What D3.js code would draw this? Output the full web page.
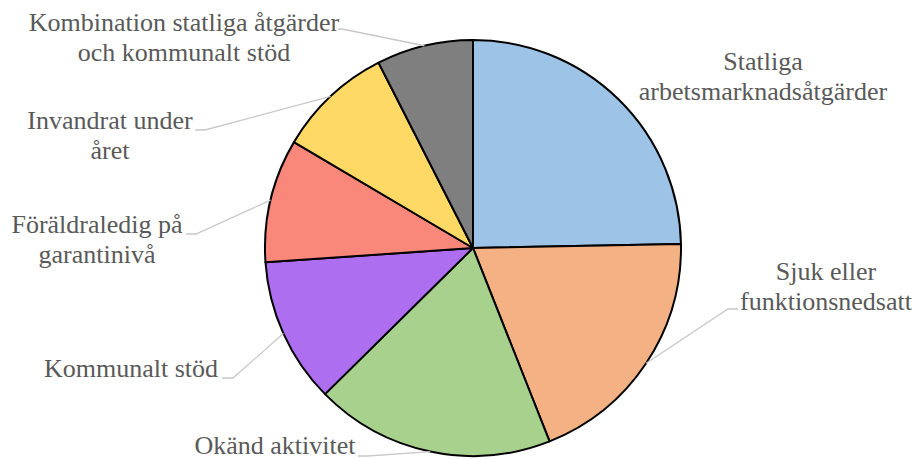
<!DOCTYPE html>
<html><head><meta charset="utf-8">
<script src="https://cdn.jsdelivr.net/npm/d3@7"></script>
<style>body{margin:0;background:#fff;overflow:hidden}</style>
</head><body>
<svg id="c" width="915" height="459"></svg>
<script>
const categories = ["Statliga arbetsmarknadsåtgärder","Sjuk eller funktionsnedsatt","Okänd aktivitet","Kommunalt stöd","Föräldraledig på garantinivå","Invandrat under året","Kombination statliga åtgärder och kommunalt stöd"];
const labelLines = [["Statliga","arbetsmarknadsåtgärder"],["Sjuk eller","funktionsnedsatt"],["Okänd aktivitet"],["Kommunalt stöd"],["Föräldraledig på","garantinivå"],["Invandrat under","året"],["Kombination statliga åtgärder","och kommunalt stöd"]];
const values = [24.7,19.3,18.6,11.3,9.6,9.0,7.5];
const colors = ["#9DC3E6","#F4B183","#A9D18E","#AE6EF0","#F9887B","#FFD966","#7F7F7F"];

const W = 915, H = 459;
const cx = 473, cy = 248, r = 208;
// label layout: centre x, first baseline y, leader start and elbow
const layout = [
  {x:763, y:70, lead:null},
  {x:826, y:280, lead:[[738,309],[728,309]]},
  {x:275, y:454, lead:[[358,456],[368,456]]},
  {x:131, y:377, lead:[[222,378],[233,378]]},
  {x:97,  y:233, lead:[[186,234],[196,234]]},
  {x:110, y:129, lead:[[195,130],[205,130]]},
  {x:184, y:31,  lead:[[338,29],[342,29]]}
];

const svg = d3.select("#c");
svg.append("rect").attr("width",W).attr("height",H).attr("fill","#fff");
const pie = d3.pie().sort(null).value(d=>d)(values);
const arc = d3.arc().innerRadius(0).outerRadius(r);
const g = svg.append("g").attr("transform",`translate(${cx},${cy})`);

pie.forEach((p,i)=>{
  const L = layout[i];
  if(!L.lead) return;
  const a = (p.startAngle+p.endAngle)/2;
  const ex = cx + r*Math.sin(a), ey = cy - r*Math.cos(a);
  const pts = [L.lead[0], L.lead[1], [ex,ey]];
  svg.append("path").attr("d", d3.line()(pts))
    .attr("fill","none").attr("stroke","#C8C8C8").attr("stroke-width",1.3);
});

g.selectAll("path.s").data(pie).join("path").attr("class","s")
  .attr("d",arc).attr("fill",(d,i)=>colors[i])
  .attr("stroke","#000").attr("stroke-width",2).attr("stroke-linejoin","round");

labelLines.forEach((lines,i)=>{
  const L = layout[i];
  const t = svg.append("text").attr("text-anchor","middle")
    .attr("font-family","Liberation Serif")
    .attr("font-size",26).attr("fill","#595959");
  lines.forEach((s,j)=>t.append("tspan").attr("x",L.x).attr("y",L.y+j*30).text(s));
});
</script>
</body></html>
